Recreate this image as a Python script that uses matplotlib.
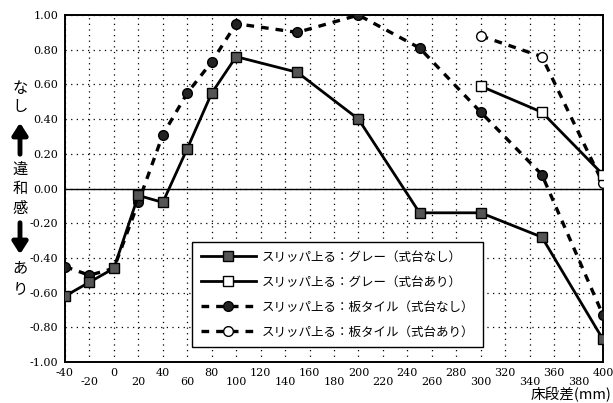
import numpy as np
import matplotlib
matplotlib.use("Agg")
import matplotlib.pyplot as plt

plt.rcParams['font.family'] = ['Noto Sans CJK JP', 'DejaVu Sans']

# 床段差 (mm) と評価値
x_all = [-40, -20, 0, 20, 40, 60, 80, 100, 150, 200, 250, 300, 350, 400]
gray_nashi = [-0.62, -0.54, -0.46, -0.04, -0.08, 0.23, 0.55, 0.76, 0.67,
              0.40, -0.14, -0.14, -0.28, -0.87]
tile_nashi = [-0.45, -0.50, -0.46, -0.08, 0.31, 0.55, 0.73, 0.95, 0.90,
              1.00, 0.81, 0.44, 0.08, -0.73]
x_ari = [300, 350, 400]
gray_ari = [0.59, 0.44, 0.08]
tile_ari = [0.88, 0.76, 0.03]

labels = ["スリッパ上る：グレー（式台なし）",
          "スリッパ上る：グレー（式台あり）",
          "スリッパ上る：板タイル（式台なし）",
          "スリッパ上る：板タイル（式台あり）"]

x_major = np.arange(-40, 401, 40)
x_minor = np.arange(-20, 381, 40)
y_ticks = np.round(np.arange(-1.0, 1.01, 0.2), 2) + 0.0

fig = plt.figure(figsize=(6.13, 4.03), dpi=100)
ax = fig.add_axes([0.106, 0.1017, 0.8777, 0.861])

dash = (0, (2.3, 2.1))
ax.plot(x_all, gray_nashi, '-', color='k', lw=2.0, marker='s', ms=7,
        mfc='#555555', mec='k', mew=1.0, label=labels[0], zorder=4)
ax.plot(x_ari, gray_ari, '-', color='k', lw=2.0, marker='s', ms=7,
        mfc='white', mec='k', mew=1.0, label=labels[1], zorder=4)
ax.plot(x_all, tile_nashi, linestyle=dash, color='k', lw=2.4, marker='o',
        ms=7, mfc='#222222', mec='k', mew=1.0, label=labels[2], zorder=3)
ax.plot(x_ari, tile_ari, linestyle=dash, color='k', lw=2.4, marker='o',
        ms=7, mfc='white', mec='k', mew=1.0, label=labels[3], zorder=3)

ax.axhline(0, color='k', lw=1.0, zorder=2)

ax.set_xlim(-40, 400)
ax.set_ylim(-1.0, 1.0)
ax.set_xticks(x_major)
ax.set_xticks(x_minor, minor=True)
ax.set_xticklabels([str(v) for v in x_major], family='DejaVu Serif',
                   fontsize=8)
ax.set_xticklabels([str(v) for v in x_minor], minor=True,
                   family='DejaVu Serif', fontsize=8)
ax.set_yticks(y_ticks)
ax.set_yticklabels(["%.2f" % v for v in y_ticks], family='DejaVu Serif',
                   fontsize=8)
ax.tick_params(axis='both', which='both', length=0)
ax.tick_params(axis='x', which='major', pad=4)
ax.tick_params(axis='x', which='minor', pad=11)
ax.tick_params(axis='y', pad=5)

ax.grid(True, which='both', color='k', linestyle=(0, (1, 3.5)), lw=0.9)
for s in ax.spines.values():
    s.set_linewidth(1.4)

leg = ax.legend(loc='upper left', bbox_to_anchor=(0.236, 0.346),
                borderaxespad=0, fontsize=9.0, handlelength=4.4,
                labelspacing=0.95, borderpad=0.7, handletextpad=0.5,
                fancybox=False, framealpha=1, edgecolor='k')
leg.get_frame().set_linewidth(1.0)

# 縦書きの評価軸
for ch, yp in [("な", 88), ("し", 106), ("違", 169), ("和", 189),
               ("感", 209), ("あ", 268), ("り", 289)]:
    fig.text(20 / 613, 1 - yp / 403, ch, fontsize=11, ha='center',
             va='center')
arrow_kw = dict(arrowstyle='-|>,head_width=0.45,head_length=0.7',
                color='k', lw=3.5)
ax.annotate("", xy=(20 / 613, 1 - 120 / 403), xycoords='figure fraction',
            xytext=(20 / 613, 1 - 157 / 403), textcoords='figure fraction',
            arrowprops=arrow_kw, annotation_clip=False)
ax.annotate("", xy=(20 / 613, 1 - 257 / 403), xycoords='figure fraction',
            xytext=(20 / 613, 1 - 220 / 403), textcoords='figure fraction',
            arrowprops=arrow_kw, annotation_clip=False)

fig.text(611 / 613, 0.5 / 403, "床段差(mm)", fontsize=10.5, ha='right',
         va='bottom')

fig.savefig("out.png", dpi=100)
